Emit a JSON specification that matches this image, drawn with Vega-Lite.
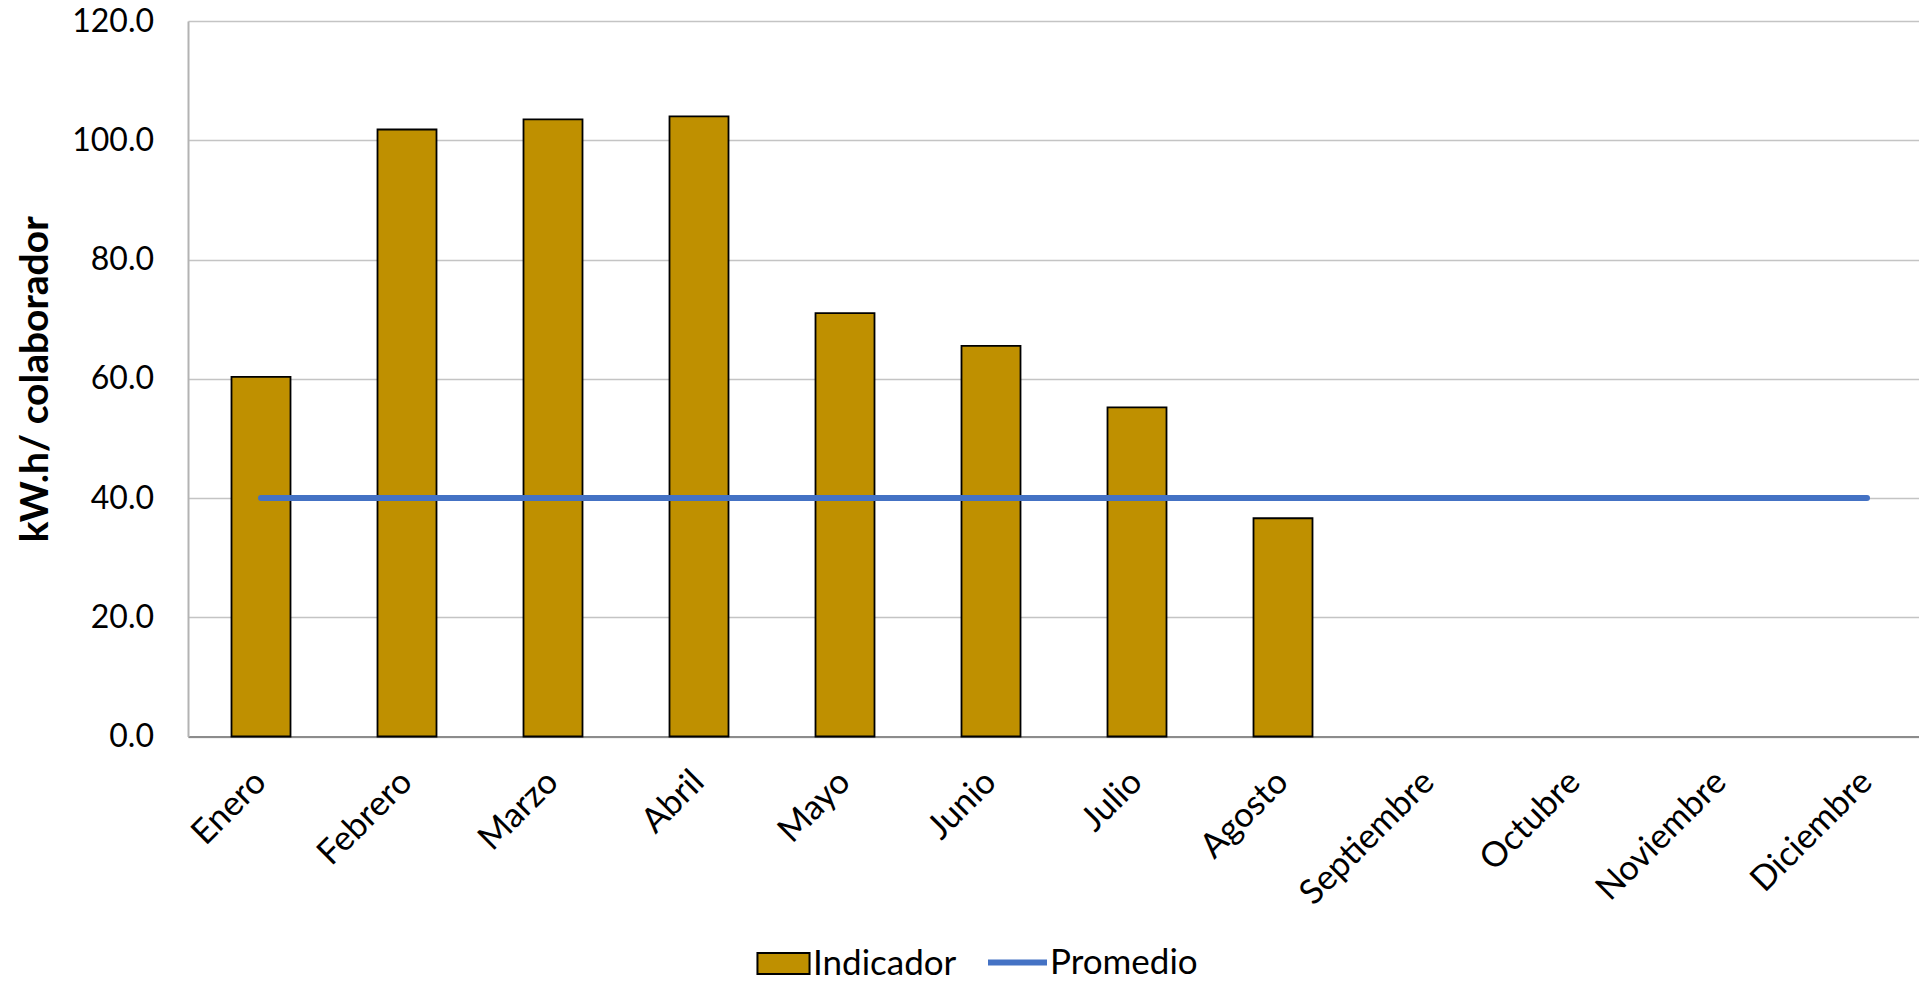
{
"$schema":"https://vega.github.io/schema/vega-lite/v6.json",
"width":1731,"height":715.5,
"autosize":{"type":"none"},
"padding":{"left":188,"top":21,"right":0,"bottom":244.5},
"background":"white",
"data":{"values":[
{"mes":"Enero","Indicador":60.3,"Promedio":40},
{"mes":"Febrero","Indicador":101.8,"Promedio":40},
{"mes":"Marzo","Indicador":103.5,"Promedio":40},
{"mes":"Abril","Indicador":104,"Promedio":40},
{"mes":"Mayo","Indicador":71,"Promedio":40},
{"mes":"Junio","Indicador":65.5,"Promedio":40},
{"mes":"Julio","Indicador":55.2,"Promedio":40},
{"mes":"Agosto","Indicador":36.6,"Promedio":40},
{"mes":"Septiembre","Indicador":null,"Promedio":40},
{"mes":"Octubre","Indicador":null,"Promedio":40},
{"mes":"Noviembre","Indicador":null,"Promedio":40},
{"mes":"Diciembre","Indicador":null,"Promedio":40}
]},
"encoding":{
"x":{"field":"mes","type":"nominal","sort":null,"scale":{"range":[0,1752],"paddingInner":0,"paddingOuter":0},
"axis":{"title":null,"labelAngle":-45,"labelAlign":"right","labelBaseline":"middle","labelFont":"Lato","labelFontSize":34.5,"labelColor":"#000000","labelPadding":40,"labelOverlap":false,"labelLimit":400,"ticks":false,"domainColor":"#8C8C8C","domainWidth":2,"grid":false}}
},
"layer":[
{"mark":{"type":"bar","width":59,"stroke":"#000000","strokeWidth":1.8},
"encoding":{
"y":{"field":"Indicador","type":"quantitative","scale":{"domain":[0,120],"nice":false},
"axis":{"title":"kW.h/ colaborador","titleFont":"Lato","titleFontSize":39,"titleFontWeight":"bold","titleColor":"#000000","titlePadding":16,"values":[0,20,40,60,80,100,120],"format":".1f","labelFont":"Lato","labelFontSize":32,"labelColor":"#000000","labelPadding":34.5,"ticks":false,"domainColor":"#B3B3B3","domainWidth":2,"grid":true,"gridColor":"#C4C4C4","gridWidth":1.5}},
"fill":{"datum":"Indicador","scale":{"domain":["Indicador"],"range":["#BF9000"]},
"legend":{"title":null,"orient":"none","legendX":578,"legendY":925,"symbolType":"M-2.48,-1H2.48V1H-2.48Z","symbolSize":441,"symbolStrokeColor":"#000000","symbolStrokeWidth":2,"labelFont":"Lato","labelFontSize":35,"labelColor":"#000000","labelOffset":12}}
}},
{"mark":{"type":"line","stroke":"#4472C4","strokeWidth":6,"strokeCap":"round"},
"encoding":{
"y":{"field":"Promedio","type":"quantitative"},
"stroke":{"datum":"Promedio","scale":{"domain":["Promedio"],"range":["#4472C4"]},
"legend":{"title":null,"orient":"none","legendX":797,"legendY":909,"symbolType":"stroke","symbolSize":3481,"symbolStrokeWidth":6,"labelFont":"Lato","labelFontSize":35,"labelColor":"#000000","labelOffset":0}}
}}
],
"resolve":{"legend":{"fill":"independent","stroke":"independent"}},
"config":{"view":{"stroke":null}}
}
